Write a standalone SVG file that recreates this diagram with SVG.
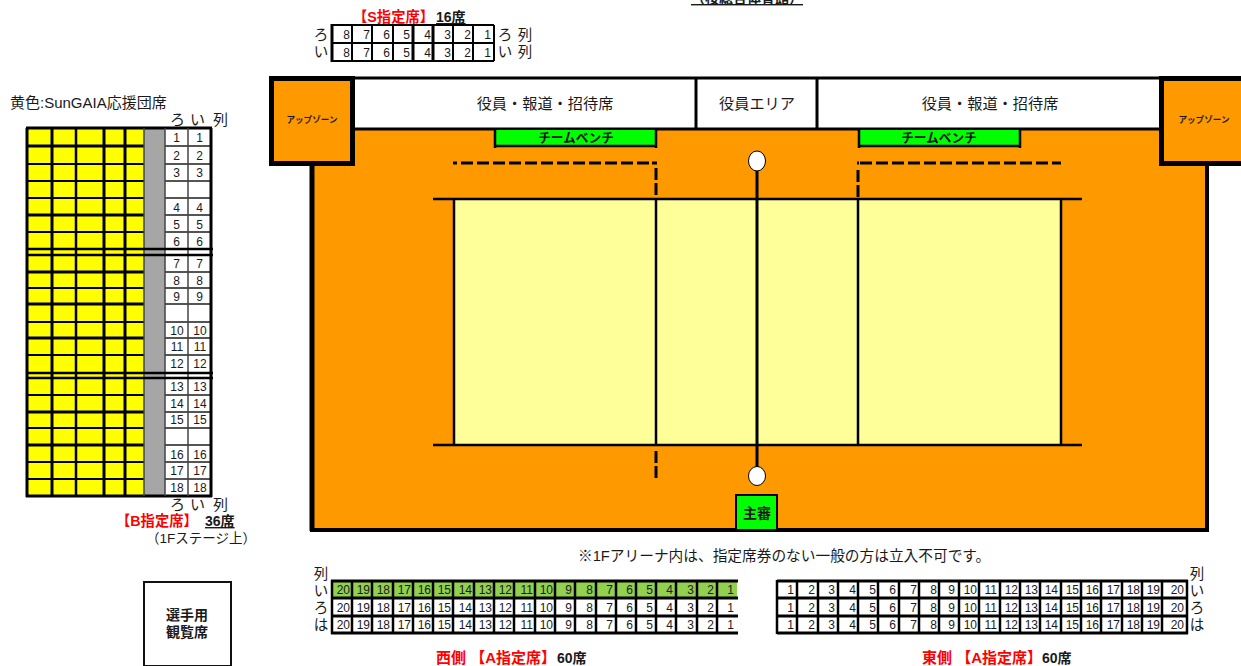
<svg xmlns="http://www.w3.org/2000/svg" xmlns:xlink="http://www.w3.org/1999/xlink" width="1241" height="666" viewBox="0 0 1241 666">
<style>
text{font-family:"Liberation Sans","Noto Sans CJK JP",sans-serif;fill:#1a1a1a;font-size:12px}
.e{text-anchor:end}
.m{text-anchor:middle}
.red{fill:#ff0000;font-weight:bold;font-size:14.3px}
.redl{fill:#ff0000;font-weight:bold;font-size:15px}
.b{font-weight:bold;font-size:14px}
.u{text-decoration:underline}
.lab{font-size:14.5px;text-anchor:middle}
.k{stroke:#000;fill:none}
.zone{fill:#ff9900;stroke:#000;stroke-width:5}
.bench{fill:#00ff00;stroke:none}
.wz{font-size:8.6px;font-weight:bold;text-anchor:middle}
.tb{font-size:12.7px;font-weight:bold;text-anchor:middle;fill:#111}
.ar{font-size:15.2px;text-anchor:middle}
.col{font-size:15px}
</style>
<defs>
<g id="wrow">
<text x="350" class="e">20</text><text x="370" class="e">19</text><text x="390" class="e">18</text><text x="411" class="e">17</text><text x="431" class="e">16</text><text x="451" class="e">15</text><text x="472" class="e">14</text><text x="492" class="e">13</text><text x="512" class="e">12</text><text x="533" class="e">11</text><text x="553" class="e">10</text><text x="572" class="e">9</text><text x="593" class="e">8</text><text x="613" class="e">7</text><text x="633" class="e">6</text><text x="653" class="e">5</text><text x="673" class="e">4</text><text x="694" class="e">3</text><text x="714" class="e">2</text><text x="734" class="e">1</text>
</g>
<g id="erow">
<text x="794" class="e">1</text><text x="815" class="e">2</text><text x="835" class="e">3</text><text x="856" class="e">4</text><text x="876" class="e">5</text><text x="896" class="e">6</text><text x="917" class="e">7</text><text x="937" class="e">8</text><text x="955" class="e">9</text><text x="977" class="e">10</text><text x="997" class="e">11</text><text x="1018" class="e">12</text><text x="1038" class="e">13</text><text x="1058" class="e">14</text><text x="1079" class="e">15</text><text x="1099" class="e">16</text><text x="1120" class="e">17</text><text x="1140" class="e">18</text><text x="1160" class="e">19</text><text x="1184" class="e">20</text>
</g>
<g id="srow">
<text x="350" class="e">8</text><text x="370" class="e">7</text><text x="390" class="e">6</text><text x="410" class="e">5</text><text x="431" class="e">4</text><text x="451" class="e">3</text><text x="471" class="e">2</text><text x="491" class="e">1</text>
</g>
</defs>
<g id="title"><text x="747" y="3" class="m b u">（桜総合体育館）</text></g>
<g id="s-seats">
<text x="353" y="22" class="red">【S指定席】</text>
<text x="436" y="22" class="u b">16席</text>
<path class="k" stroke-width="2" d="M332 25H494M332 43H494M332 61H494M352 25V61M372 25V61M393 25V61M473 25V61M453 25V61M494 25V61"/>
<path class="k" stroke-width="3" d="M332 24V62M413 25V62M433 25V62"/>
<use xlink:href="#srow" href="#srow" y="39"/><use xlink:href="#srow" href="#srow" y="57"/>
<text x="321" y="40" class="lab">ろ</text><text x="321" y="57" class="lab">い</text>
<text x="505" y="40" class="lab">ろ</text><text x="525" y="40" class="lab">列</text>
<text x="505" y="57" class="lab">い</text><text x="525" y="57" class="lab">列</text>
</g>
<g id="arena">
<rect x="312" y="128" width="895" height="402" fill="#ff9900"/>
<path class="k" stroke-width="5" d="M312 128V531"/>
<path class="k" stroke-width="4" d="M1207 128V532M310 530H1209"/>
</g>
<g id="officials">
<rect x="354" y="78" width="808" height="51" fill="#fff"/>
<path class="k" stroke-width="3" d="M354 78H1162M354 129H1162"/>
<path class="k" stroke-width="3" d="M696 78V130M817 78V130"/>
<text x="545" y="109" class="ar">役員・報道・招待席</text>
<text x="757" y="109" class="ar">役員エリア</text>
<text x="990" y="109" class="ar">役員・報道・招待席</text>
</g>
<g id="zone-left"><rect class="zone" x="271.5" y="78.5" width="81" height="85"/><text x="312" y="123" class="wz">アップゾーン</text></g>
<g id="zone-right"><rect class="zone" x="1161.5" y="78.5" width="90" height="85"/><text x="1204" y="123" class="wz">アップゾーン</text></g>
<g id="bench-left"><rect class="bench" x="495" y="130" width="161" height="16"/><path class="k" stroke-width="2.5" d="M495 129V148M656 129V148M494 146H657"/><text x="576" y="142" class="tb">チームベンチ</text></g>
<g id="bench-right"><rect class="bench" x="859" y="130" width="161" height="16"/><path class="k" stroke-width="2.5" d="M859 129V148M1020 129V148M858 146H1021"/><text x="939" y="142" class="tb">チームベンチ</text></g>
<g id="court">
<rect x="454" y="199" width="607" height="246" fill="#ffff99"/>
<path class="k" stroke-width="2.5" d="M433 199H1082M433 445H1082M454 199V445M1061 199V445M656 199V445M858 199V445"/>
<path class="k" stroke-width="3" d="M757 160V476"/>
<path class="k" stroke-width="3" stroke-dasharray="12 4" d="M860 163H1061M649 163H457"/>
<path class="k" stroke-width="3" d="M453 163H457M652 163H657M857 163H859"/>
<path class="k" stroke-width="3" stroke-dasharray="12 3" d="M656 168V199M858 170V199"/>
<path class="k" stroke-width="3" stroke-dasharray="12 3" d="M656 451V479"/>
<ellipse cx="757" cy="161" rx="8.5" ry="10" fill="#fff" stroke="#000" stroke-width="1"/>
<ellipse cx="757" cy="476" rx="8.5" ry="9.5" fill="#fff" stroke="#000" stroke-width="1"/>
</g>
<g id="referee"><rect x="736" y="495" width="41" height="35" fill="#00ff00" stroke="#000" stroke-width="2"/><text x="757" y="518" class="m b">主審</text></g>
<g id="b-seats">
<text x="10" y="108" style="font-size:15px">黄色:SunGAIA応援団席</text>
<text x="170" y="125" class="col">ろ</text><text x="190" y="125" class="col">い</text><text x="213" y="125" class="col">列</text>
<rect x="27" y="128" width="117" height="368" fill="#ffff00"/>
<rect x="144" y="128" width="21" height="368" fill="#a6a6a6"/>
<rect x="165" y="128" width="46" height="368" fill="#fff"/>
<path class="k" stroke-width="2" d="M27 164H144M27 181H144M27 198H144M27 232H144M27 288H144M27 322H144M27 355H144M27 395H144M27 428H144M27 462H144M27 479H144"/>
<path class="k" stroke-width="3" d="M27 146H144M27 215H144M27 272H144M27 304H144M27 338H144M27 412H144M27 445H144"/>
<path stroke="#555" fill="none" stroke-width="2" d="M165 146H211M165 164H211M165 181H211M165 198H211M165 215H211M165 232H211M165 272H211M165 288H211M165 304H211M165 322H211M165 338H211M165 355H211M165 395H211M165 412H211M165 428H211M165 445H211M165 462H211M165 479H211"/>
<path class="k" stroke-width="3" d="M26 128H212M26 496H212M27 128V497M52 128V496M104 128V496M125 128V496M211 128V497"/>
<path class="k" stroke-width="2.5" d="M76 128V496"/>
<path stroke="#444" fill="none" stroke-width="1.5" d="M144 128V496M165 128V496M188 128V496"/>
<path class="k" stroke-width="2.5" d="M27 249H213M27 255H213M27 373H213M27 378H213"/>
<g class="m">
<text y="142"><tspan x="176.5">1</tspan><tspan x="199.5">1</tspan></text>
<text y="160"><tspan x="176.5">2</tspan><tspan x="199.5">2</tspan></text>
<text y="177"><tspan x="176.5">3</tspan><tspan x="199.5">3</tspan></text>
<text y="212"><tspan x="176.5">4</tspan><tspan x="199.5">4</tspan></text>
<text y="229"><tspan x="176.5">5</tspan><tspan x="199.5">5</tspan></text>
<text y="246"><tspan x="176.5">6</tspan><tspan x="199.5">6</tspan></text>
<text y="268"><tspan x="176.5">7</tspan><tspan x="199.5">7</tspan></text>
<text y="285"><tspan x="176.5">8</tspan><tspan x="199.5">8</tspan></text>
<text y="301"><tspan x="176.5">9</tspan><tspan x="199.5">9</tspan></text>
<text y="335"><tspan x="177">10</tspan><tspan x="200">10</tspan></text>
<text y="351"><tspan x="177">11</tspan><tspan x="200">11</tspan></text>
<text y="368"><tspan x="177">12</tspan><tspan x="200">12</tspan></text>
<text y="391"><tspan x="177">13</tspan><tspan x="200">13</tspan></text>
<text y="408"><tspan x="177">14</tspan><tspan x="200">14</tspan></text>
<text y="424"><tspan x="177">15</tspan><tspan x="200">15</tspan></text>
<text y="459"><tspan x="177">16</tspan><tspan x="200">16</tspan></text>
<text y="475"><tspan x="177">17</tspan><tspan x="200">17</tspan></text>
<text y="492"><tspan x="177">18</tspan><tspan x="200">18</tspan></text>
</g>
<text x="170" y="510" class="col">ろ</text><text x="190" y="510" class="col">い</text><text x="213" y="510" class="col">列</text>
<text x="116" y="526" class="red">【B指定席】</text>
<text x="205" y="526" class="u b">36席</text>
<text x="146" y="543" style="font-size:13.5px">（1Fステージ上）</text>
</g>
<g id="notice"><text x="578" y="561" style="font-size:14.7px">※1Fアリーナ内は、指定席券のない一般の方は立入不可です。</text></g>
<g id="players"><rect x="144" y="582" width="87" height="84" fill="#fff" stroke="#111" stroke-width="2"/><text x="187" y="620" class="m b">選手用</text><text x="187" y="637" class="m b">観覧席</text></g>
<g id="a-west">
<rect x="331" y="581" width="406" height="17" fill="#92d050"/>
<path class="k" stroke-width="3" d="M331 581H738M331 598H738M331 616H738M331 633H738"/>
<path class="k" stroke-width="2.5" d="M332 580V634M352 581V633M372 581V633M393 581V633M413 581V633M433 581V633M453 581V633M474 581V633M494 581V633M514 581V633M535 581V633M555 581V633M575 581V633M596 581V633M616 581V633M636 581V633M656 581V633M676 581V633M697 581V633M717 581V633"/>
<use xlink:href="#wrow" href="#wrow" y="594"/><use xlink:href="#wrow" href="#wrow" y="612"/><use xlink:href="#wrow" href="#wrow" y="629"/>
<text x="321" y="579" class="lab">列</text><text x="321" y="596" class="lab">い</text><text x="321" y="613" class="lab">ろ</text><text x="321" y="630" class="lab">は</text>
<text x="436" y="663" class="redl">西側 【A指定席】</text>
<text x="557" y="663" class="b">60席</text>
</g>
<g id="a-east">
<path class="k" stroke-width="3" d="M777 581H1188M777 598H1188M777 616H1188M777 633H1188"/>
<path class="k" stroke-width="2.5" d="M777 580V634M797 581V633M818 581V633M838 581V633M858 581V633M878 581V633M899 581V633M919 581V633M939 581V633M959 581V633M979 581V633M1000 581V633M1020 581V633M1040 581V633M1061 581V633M1081 581V633M1101 581V633M1122 581V633M1142 581V633M1162 581V633M1187 580V634"/>
<use xlink:href="#erow" href="#erow" y="594"/><use xlink:href="#erow" href="#erow" y="612"/><use xlink:href="#erow" href="#erow" y="629"/>
<text x="1197" y="579" class="lab">列</text><text x="1197" y="596" class="lab">い</text><text x="1197" y="613" class="lab">ろ</text><text x="1197" y="630" class="lab">は</text>
<text x="922" y="663" class="redl">東側 【A指定席】</text>
<text x="1042" y="663" class="b">60席</text>
</g>
</svg>
